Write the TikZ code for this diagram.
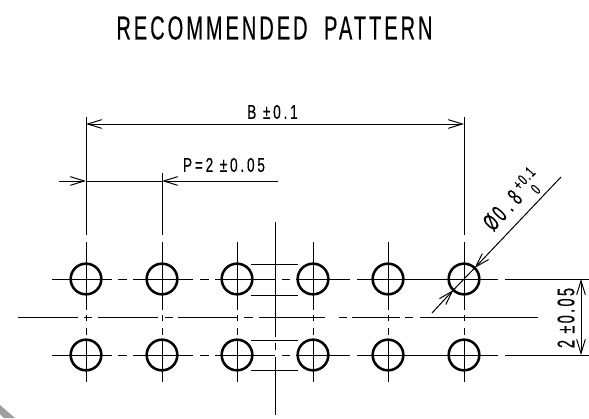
\documentclass[tikz,border=0pt]{standalone}
\usepackage{fontspec}
\usetikzlibrary{arrows.meta}
\newfontfamily\dimfont[FakeStretch=0.68,FakeBold=0.4,LetterSpace=14]{Liberation Sans}
\newfontfamily\tallfont[FakeStretch=0.6,FakeBold=0.4,LetterSpace=10]{Liberation Sans}
\newfontfamily\titlefont[FakeStretch=0.6,FakeBold=0.3,LetterSpace=9]{Liberation Sans}
\tikzset{
	x=0.75pt, y=-0.75pt, % one unit is one pixel of the drawing
	>={Straight Barb[length=10.5pt,width=6.5pt]}, % open arrow heads
	thinline/.style={line width=0.75pt, black},
	hole/.style={circle, draw, line width=1.9pt, minimum size=23pt, inner sep=0pt, outer sep=0pt},
	dimtext/.style={font=\dimfont\fontsize{15}{15}\selectfont, inner sep=0pt},
	talltext/.style={font=\tallfont\fontsize{18}{18}\selectfont, inner sep=0pt},
}
\begin{document}
\begin{tikzpicture}
	\useasboundingbox (0,0) rectangle (589,418);
	\node[font=\titlefont\fontsize{25}{25}\selectfont, inner sep=0pt] (title) at (274.5,28) {RECOMMENDED\hspace{6pt} PATTERN};

	% holes
	\foreach \n/\x in {1/86, 2/162, 3/237, 4/313, 5/388, 6/464} {
		\node[hole] (a\n) at (\x,279) {};
		\node[hole] (b\n) at (\x,355) {};
	}

	% centre lines of the two rows
	\foreach \y in {279, 355}
		\foreach \s/\e in {52/112, 118/127, 133/193, 200/209, 215/275, 282/290, 296/350, 357/498, 505/589}
			\draw[thinline] (\s,\y) -- (\e,\y);
	\foreach \s/\e in {18/78, 84/92, 98/158, 165/173, 178/237, 244/253, 259/325, 339/347, 352/400, 405/413, 420/538}
		\draw[thinline] (\s,317.5) -- (\e,317.5);

	% centre lines of the columns
	\foreach \x/\t in {86/117, 162/173, 464/117} {
		\draw[thinline] (\x,\t) -- (\x,235);
	}
	\foreach \x in {86, 162, 237, 313, 388, 464}
		\foreach \s/\e in {242/310, 315/321, 328/335, 340/382}
			\draw[thinline] (\x,\s) -- (\x,\e);

	% axis of the pattern
	\foreach \s/\e in {222/337, 343/350, 357/415}
		\draw[thinline] (275,\s) -- (275,\e);
	\foreach \y in {264, 295, 340, 370}
		\draw[thinline] (251,\y) -- (298,\y);

	% dimension B
	\coordinate (bleft) at (86,124);
	\coordinate (bright) at (464,124);
	\draw[thinline, <->] (bleft) -- (bright);
	\node[dimtext] (blabel) at (272.5,112) {B ±0.1};

	% dimension P
	\coordinate (pout) at (59,181);
	\coordinate (pleft) at (86,181);
	\coordinate (pright) at (162,181);
	\coordinate (ptail) at (278,181);
	\draw[thinline] (pleft) -- (pright);
	\draw[thinline, ->] (pout) -- (pleft);
	\draw[thinline, ->] (ptail) -- (pright);
	\node[dimtext] (plabel) at (224,165) {P=2 ±0.05};

	% diameter leader
	\coordinate (dtop) at (561,177);
	\coordinate (dend) at (432,313);
	\draw[thinline, ->] (dtop) -- (a6.46.5);
	\draw[thinline, ->] (dend) -- (a6.226.5);
	\draw[thinline] (a6.46.5) -- (a6.226.5);
	\node[talltext, rotate=47] (dlabel) at (515,203) {Ø0\hspace{4pt}.\hspace{4pt}8\,{\fontsize{12}{12}\selectfont\begin{tabular}{@{}c@{}}+0.1\\0\end{tabular}}};

	% row pitch
	\coordinate (rtop) at (581,279);
	\coordinate (rbottom) at (581,355);
	\draw[thinline, <->] (rtop) -- (rbottom);
	\node[talltext, rotate=90] (rlabel) at (566,318) {2 ±0.05};

	% scan corner
	\fill[gray!75] (0,405) -- (15,418) -- (4,418) -- (0,414) -- cycle;
\end{tikzpicture}
\end{document}
